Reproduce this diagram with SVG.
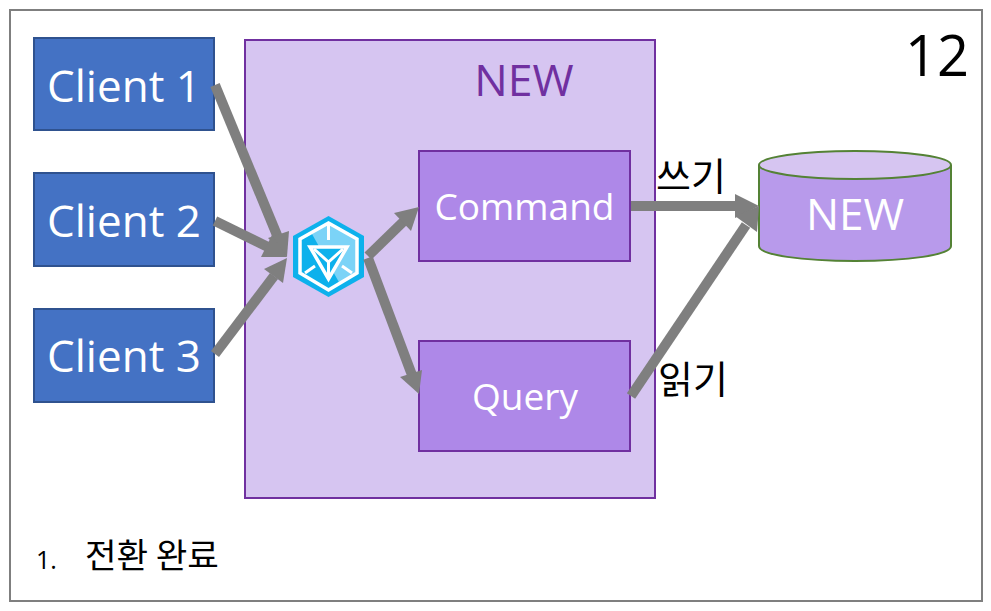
<svg xmlns="http://www.w3.org/2000/svg" width="991" height="611" viewBox="0 0 991 611">
<style>
text{font-family:"Open Sans","Noto Sans CJK KR",sans-serif}
.ko{font-family:"Noto Sans CJK KR","Noto Sans",sans-serif;fill:#000}
.client{fill:#4472c4;stroke:#2f528f;stroke-width:2}
.lbl{fill:#fff;font-size:44px;text-anchor:middle}
.lbl2{fill:#fff;font-size:37px;text-anchor:middle}
.box{fill:#ae88e8;stroke:#7030a0;stroke-width:2}
.conn{stroke:#7f7f7f;stroke-width:10;fill:none}
.head{fill:#7f7f7f}
</style>
<rect x="0" y="0" width="991" height="611" fill="#fff"/>
<rect id="frame" x="10" y="10" width="972" height="591" fill="#fff" stroke="#7f7f7f" stroke-width="2"/>
<text x="937" y="76" font-size="56" text-anchor="middle" fill="#000">12</text>
<g id="new-container"><rect x="245" y="40" width="410" height="458" fill="#d6c5f1" stroke="#7030a0" stroke-width="2"/>
<text x="524" y="96" font-size="44.500" text-anchor="middle" fill="#7030a0">NEW</text></g>
<g id="client1"><rect class="client" x="34" y="38" width="180" height="92"/><text class="lbl" x="124" y="102">Client 1</text></g>
<g id="client2"><rect class="client" x="34" y="173" width="180" height="93"/><text class="lbl" x="124" y="237">Client 2</text></g>
<g id="client3"><rect class="client" x="34" y="309" width="180" height="93"/><text class="lbl" x="124" y="372">Client 3</text></g>
<g id="command"><rect class="box" x="419" y="151" width="211" height="110"/><text class="lbl2" x="524.500" y="220">Command</text></g>
<g id="query"><rect class="box" x="419" y="341" width="211" height="110"/><text class="lbl2" x="525" y="410">Query</text></g>
<g id="db">
<path d="M759 166V246C759 255 802 261 855 261S951 255 951 246V166Z" fill="#b89aeb" stroke="#548235" stroke-width="2"/>
<ellipse cx="855" cy="165" rx="96" ry="14" fill="#d6c5f1" stroke="#548235" stroke-width="2"/>
<text class="lbl" x="855" y="230">NEW</text></g>
<g id="ingress">
<polygon points="328.500,216 364,236 364,277 328.500,297 293,277 293,236" fill="#0db1ec"/>
<polygon points="328.500,223 357,239 357,273 340,284 312,234" fill="#7bd3f7"/>
<polygon points="328.500,223 357,239 357,273 328.500,290 300,273 300,239" fill="none" stroke="#fff" stroke-width="3.500"/>
<polygon points="310,247 347,247 328.500,279" fill="#0db1ec" stroke="#fff" stroke-width="3.500"/>
<path d="M328.500 223V240M305 273L315 266M352 273L342 266M328.500 262V279M314 249L328.500 262L343 249" fill="none" stroke="#fff" stroke-width="3"/>
</g>
<g id="connectors">
<line class="conn" x1="215" y1="85" x2="279" y2="240"/><polygon class="head" points="287,257 268,238 289,231"/>
<line class="conn" x1="215" y1="221" x2="272" y2="249"/><polygon class="head" points="287,257 261,257 272,235"/>
<line class="conn" x1="215" y1="354" x2="274" y2="276"/><polygon class="head" points="287,258 264,269 283,283"/>
<line class="conn" x1="368" y1="256" x2="404" y2="221"/><polygon class="head" points="419,207 394,213 411,231"/>
<line class="conn" x1="368" y1="258" x2="412" y2="375"/><polygon class="head" points="419,394 400,377 422,370"/>
<line class="conn" x1="631" y1="206" x2="738" y2="206"/><polygon class="head" points="759,206 735,194 735,218"/>
<line class="conn" x1="631" y1="396" x2="746" y2="225"/><polygon class="head" points="759,206 735,216 757,232"/>
</g>
<text class="ko" x="691" y="190" font-size="38" text-anchor="middle">쓰기</text>
<text class="ko" x="693" y="393" font-size="38" text-anchor="middle">읽기</text>
<text x="36" y="569" font-size="25" fill="#000">1.</text>
<text class="ko" x="85" y="568" font-size="34.300">전환 완료</text>
</svg>
